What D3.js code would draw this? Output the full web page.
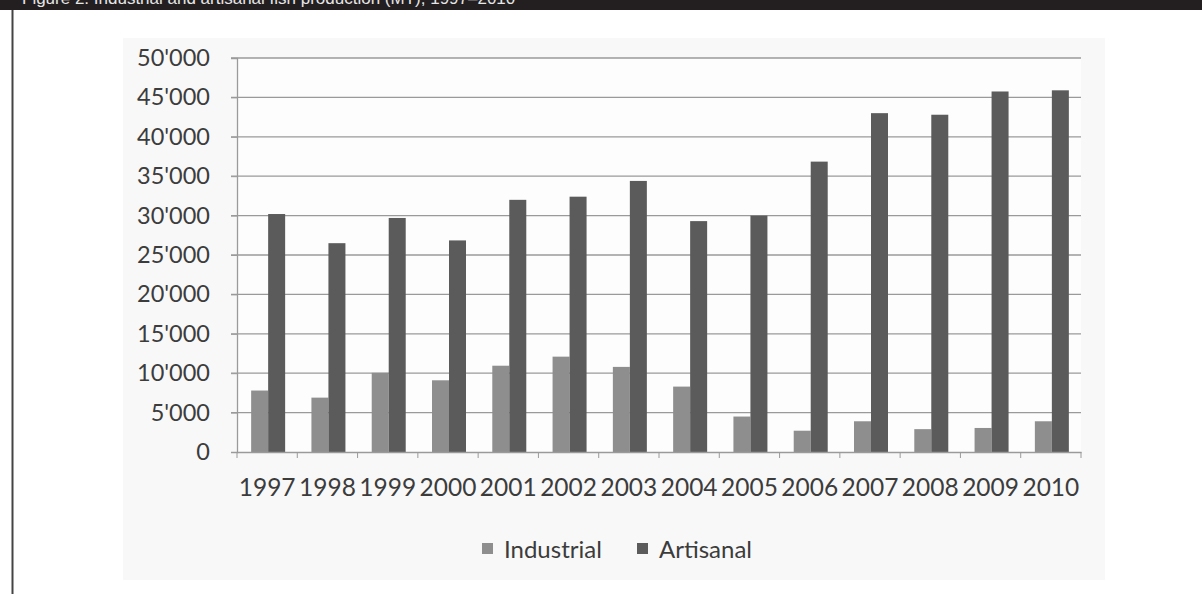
<!DOCTYPE html>
<html><head><meta charset="utf-8">
<script src="https://cdn.jsdelivr.net/npm/d3@7"></script>
<style>html,body{margin:0;padding:0;background:#fff;}svg{display:block;}</style>
</head><body>
<script>
const years = ["1997","1998","1999","2000","2001","2002","2003","2004","2005","2006","2007","2008","2009","2010"];
const industrial = [7800, 6900, 10050, 9100, 10950, 12100, 10800, 8300, 4500, 2700, 3900, 2900, 3050, 3900];
const artisanal = [30200, 26500, 29700, 26850, 32000, 32400, 34400, 29300, 30000, 36850, 43000, 42800, 45750, 45900];
const seriesNames = ["Industrial", "Artisanal"];
const yTicks = [0, 5000, 10000, 15000, 20000, 25000, 30000, 35000, 40000, 45000, 50000];
const title = "Figure 2: Industrial and artisanal fish production (MT), 1997–2010";

const W = 1202, H = 594;
const svg = d3.select("body").append("svg").attr("width", W).attr("height", H);

// title bar
svg.append("rect").attr("x", 0).attr("y", 0).attr("width", W).attr("height", 10).attr("fill", "#231f20");
svg.append("text").attr("x", 22).attr("y", 4).attr("fill", "#e6e6e6")
  .attr("font-family", "Liberation Sans, Arial, sans-serif").attr("font-size", 17).text(title);
svg.append("line").attr("x1", 12.5).attr("x2", 12.5).attr("y1", 10).attr("y2", H)
  .attr("stroke", "#444").attr("stroke-width", 2);

// chart image background
svg.append("rect").attr("x", 123).attr("y", 38).attr("width", 982).attr("height", 542).attr("fill", "#f8f8f8");

const m = {left: 237, right: 1081, top: 58, bottom: 452};
const x = d3.scaleBand().domain(years).range([m.left, m.right]).paddingInner(0).paddingOuter(0);
const y = d3.scaleLinear().domain([0, 50000]).range([m.bottom, m.top]);
const font = "Lato, 'Open Sans', sans-serif";

svg.append("rect").attr("x", m.left).attr("y", m.top).attr("width", m.right - m.left).attr("height", m.bottom - m.top).attr("fill", "#fdfdfd");

// gridlines
svg.append("g").selectAll("line").data(yTicks.filter(d => d > 0)).join("line")
  .attr("x1", m.left - 6).attr("x2", m.right).attr("y1", d => y(d)).attr("y2", d => y(d))
  .attr("stroke", "#9a9a9a").attr("stroke-width", 1.3);

// y axis
const fmt = d => d === 0 ? "0" : d3.format(",")(d).replace(/,/g, "'");
const ya = svg.append("g").attr("transform", `translate(${m.left},0)`)
  .call(d3.axisLeft(y).tickValues(yTicks).tickFormat(fmt).tickSize(6).tickPadding(21));
ya.select(".domain").attr("stroke", "#9a9a9a").attr("stroke-width", 1.3);
ya.selectAll(".tick line").attr("stroke", "#9a9a9a");
ya.selectAll("text").attr("font-family", font).attr("font-size", 23.5).attr("fill", "#3c3c3c");

// bars
const bw = 17;
const cols = ["#8e8e8e", "#5b5b5b"];
const g = svg.append("g");
[industrial, artisanal].forEach((vals, si) => {
  g.selectAll(".s" + si).data(vals).join("rect")
    .attr("x", (d, i) => x(years[i]) + x.bandwidth() / 2 - bw + si * bw + 1)
    .attr("y", d => y(d)).attr("width", bw).attr("height", d => y(0) - y(d))
    .attr("fill", cols[si]);
});

// x axis
const xa = svg.append("g").attr("transform", `translate(0,${m.bottom})`)
  .call(d3.axisBottom(x).tickSize(0).tickPadding(27));
xa.select(".domain").attr("stroke", "#9a9a9a").attr("stroke-width", 1.3);
xa.selectAll("text").attr("font-family", font).attr("font-size", 24.5).attr("fill", "#3c3c3c");
svg.append("g").selectAll("line").data(years.concat(["end"])).join("line")
  .attr("x1", (d, i) => m.left + i * x.step()).attr("x2", (d, i) => m.left + i * x.step())
  .attr("y1", m.bottom).attr("y2", m.bottom + 6).attr("stroke", "#9a9a9a");

// legend
const lg = svg.append("g");
const legX = [482, 637];
seriesNames.forEach((n, i) => {
  lg.append("rect").attr("x", legX[i]).attr("y", 543).attr("width", 11).attr("height", 11).attr("fill", cols[i]);
  lg.append("text").attr("x", legX[i] + 22).attr("y", 558).attr("font-family", font).attr("font-size", 24)
    .attr("fill", "#3c3c3c").text(n);
});
</script>
</body></html>
